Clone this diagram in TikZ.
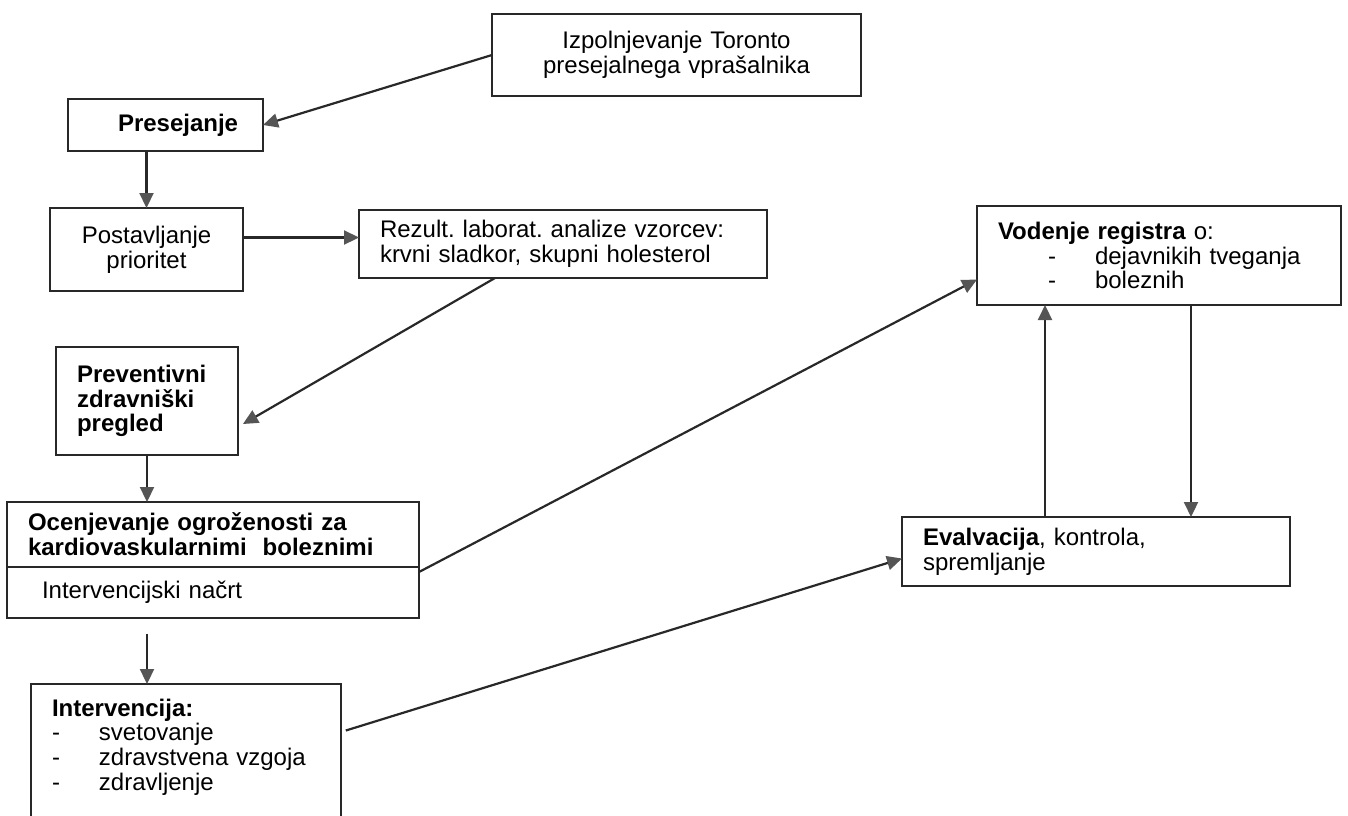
\documentclass[tikz,border=0pt]{standalone}
\usepackage{fontspec}
\setmainfont{Liberation Sans}
\frenchspacing
\definecolor{linegray}{RGB}{40, 40, 40}
\definecolor{arrowgray}{RGB}{85, 85, 85}
\usetikzlibrary{positioning,arrows.meta}
\tikzstyle{block} = [rectangle, draw=linegray, line width=1.1pt, anchor=north west,
    outer sep=0pt, inner xsep=10.5pt, inner ysep=0pt, align=left,
    font=\fontsize{12}{12.4}\selectfont]
\tikzstyle{line} = [draw=linegray, line width=1.1pt,
    -{Triangle[length=7.5pt,width=7pt,color=arrowgray]}]
\newcommand{\dashitem}{\makebox[23.5pt][l]{-}}

\begin{document}
\begin{tikzpicture}[x=0.5pt, y=-0.5pt]
  \useasboundingbox (0,0) rectangle (1348,815);
  \clip (0,0) rectangle (1348,815);
  \node [block, align=center, text width=163.5pt, minimum height=41pt] (toronto) at (492,14) {Izpolnjevanje Toronto\\presejalnega vprašalnika};
  \node [block, text width=76.5pt, minimum height=26pt] (presejanje) at (68,99) {\hspace*{14.5pt}\textbf{Presejanje}};
  \node [block, align=center, text width=75.5pt, minimum height=41.5pt] (postavljanje) at (50,208) {Postavljanje\\prioritet};
  \node [block, text width=183pt, minimum height=34pt] (rezult) at (359,210) {Rezult. laborat. analize vzorcev:\\krvni sladkor, skupni holesterol};
  \node [block, text width=70pt, minimum height=54pt] (preventivni) at (56,347) {\textbf{Preventivni}\\\textbf{zdravniški}\\\textbf{pregled}};
  \node [block, text width=185pt, minimum height=32.5pt] (ocena) at (7,502) {\textbf{Ocenjevanje ogroženosti za}\\\textbf{kardiovaskularnimi\ \ boleznimi}};
  \node [block, below=0pt of ocena, text width=185pt, minimum height=25.3pt] (nacrt) {\hspace*{7pt}Intervencijski načrt};
  \node [block, text width=134pt, minimum height=73pt] (intervencija) at (31,684) {\textbf{Intervencija:}\\\dashitem svetovanje\\\dashitem zdravstvena vzgoja\\\dashitem zdravljenje\\\mbox{}};
  \node [block, text width=161pt, minimum height=49.5pt] (vodenje) at (977,206) {\textbf{Vodenje registra} o:\\\hspace*{25pt}\dashitem dejavnikih tveganja\\\hspace*{25pt}\dashitem boleznih};
  \node [block, text width=173pt, minimum height=34.5pt] (evalvacija) at (902,517) {\textbf{Evalvacija}, kontrola,\\spremljanje};
  \path [line] (toronto.west) -- (presejanje.east);
  \path [line] (presejanje.south -| postavljanje.north) -- (postavljanje.north);
  \path [line] ([yshift=6pt]postavljanje.east) -- ([yshift=6pt]postavljanje.east -| rezult.west);
  \path [line] ([xshift=-34pt]rezult.south) -- ([xshift=2.5pt,yshift=-11.5pt]preventivni.east);
  \path [line] (preventivni.south) -- (ocena.north -| preventivni.south);
  \path [line, shorten <=8pt] (nacrt.south -| preventivni.south) -- (intervencija.north -| preventivni.south);
  \path [line] ([yshift=-2.5pt]nacrt.north east) -- ([yshift=-12pt]vodenje.west);
  \path [line, shorten <=2.5pt] ([yshift=-24pt]intervencija.north east) -- ([yshift=-3.5pt]evalvacija.west);
  \path [line] ([xshift=-25.5pt]evalvacija.north) -- ([xshift=-25.5pt]evalvacija.north |- vodenje.south);
  \path [line] ([xshift=16pt]vodenje.south) -- ([xshift=16pt]vodenje.south |- evalvacija.north);
\end{tikzpicture}
\end{document}
